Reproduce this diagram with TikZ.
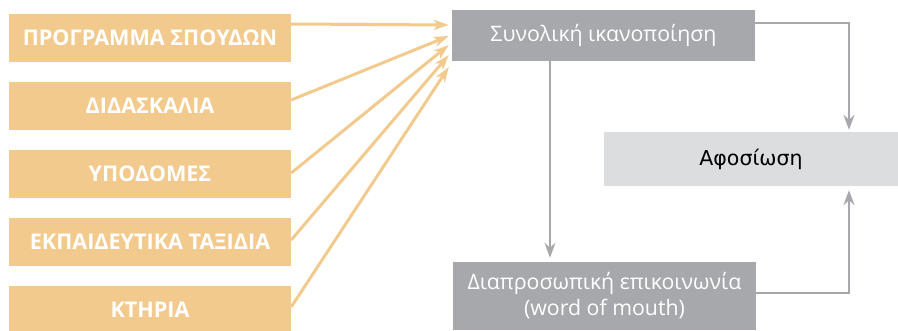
\documentclass[tikz,border=0pt]{standalone}
\usepackage{fontspec}
\setmainfont{Open Sans}
\newfontfamily\dejavu{DejaVu Sans}
\usetikzlibrary{arrows.meta}
\definecolor{org}{HTML}{F3CA8D}
\definecolor{gry}{HTML}{A7A8AC}
\definecolor{lgry}{HTML}{DCDDDF}
\begin{document}
\begin{tikzpicture}[x=1pt,y=1pt,
  obox/.style={fill=org, minimum width=282pt, minimum height=48.5pt, inner sep=0pt,
    text=white, font=\fontsize{21.6}{24}\selectfont\bfseries},
  gbox/.style={fill=gry, inner sep=0pt, text=white, align=center,
    font=\fontsize{21.3}{26}\selectfont},
  lbox/.style={fill=lgry, inner sep=0pt, text=black,
    font=\dejavu\fontsize{20.5}{24}\selectfont},
  oarr/.style={draw=org, line width=3pt, -{Stealth[length=15pt,width=10pt,inset=4pt]}},
  garr/.style={draw=gry, line width=2.4pt, -{Stealth[length=15pt,width=11pt,inset=5pt]}}
]
\useasboundingbox (0,0) rectangle (898,330);
\node[obox] (b1) at (150,292) {ΠΡΟΓΡΑΜΜΑ ΣΠΟΥΔΩΝ};
\node[obox] (b2) at (150,224) {ΔΙΔΑΣΚΑΛΙΑ};
\node[obox] (b3) at (150,156) {ΥΠΟΔΟΜΕΣ};
\node[obox] (b4) at (150,88) {ΕΚΠΑΙΔΕΥΤΙΚΑ ΤΑΞΙΔΙΑ};
\node[obox] (b5) at (150,20) {ΚΤΗΡΙΑ};

\node[gbox, minimum width=303pt, minimum height=51pt] (S) at (603.5,294.5) {Συνολική ικανοποίηση};
\node[lbox, minimum width=294pt, minimum height=54pt] (A) at (751,171) {Αφοσίωση};
\node[gbox, minimum width=303pt, minimum height=68pt] (D) at (604.5,34) {Διαπροσωπική επικοινωνία\\(word of mouth)};

\coordinate (t1) at ([shift={(-3,10.5)}]S.west);
\coordinate (t2) at ([shift={(-3,-0.5)}]S.west);
\coordinate (t3) at ([shift={(-3,-9.5)}]S.west);
\coordinate (t4) at ([shift={(-3,-19.5)}]S.west);
\coordinate (t5) at ([shift={(-3,-31.5)}]S.west);

\draw[oarr] ([yshift=14pt]b1.east) -- (t1);
\draw[oarr] ([yshift=6pt]b2.east) -- (t2);
\draw[oarr] ([yshift=1pt]b3.east) -- (t3);
\draw[oarr] ([yshift=2pt]b4.east) -- (t4);
\draw[oarr] ([yshift=3pt]b5.east) -- (t5);

\draw[garr, shorten >=4pt] ([xshift=-53.5pt]S.south) -- ([xshift=-54.5pt]D.north);
\draw[garr, shorten >=2pt] ([yshift=12.5pt]S.east) -| ([xshift=98pt]A.north);
\draw[garr, shorten >=4pt] ([yshift=3pt]D.east) -| ([xshift=98pt]A.south);
\end{tikzpicture}
\end{document}
